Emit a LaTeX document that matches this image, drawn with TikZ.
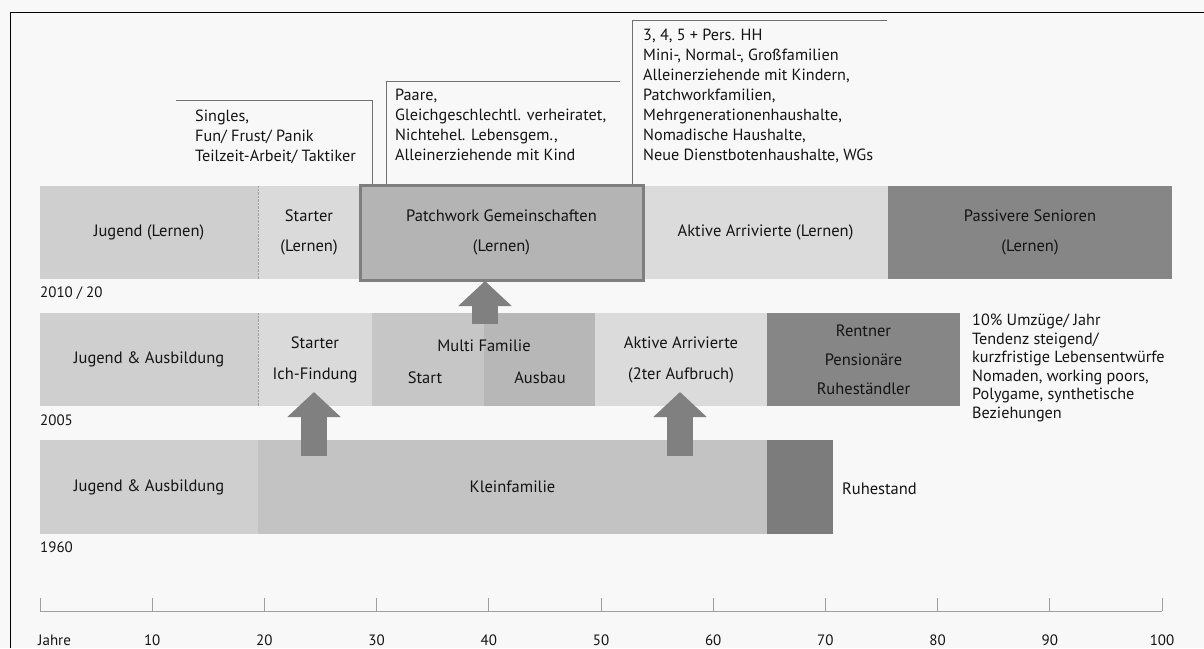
\documentclass[tikz,border=0pt]{standalone}
\usepackage{fontspec}
\setmainfont{PT Sans}
\usetikzlibrary{arrows.meta}
\definecolor{bgc}{HTML}{F8F8F8}
\definecolor{cJ}{HTML}{CFCFCF}
\definecolor{cS}{HTML}{DADADA}
\definecolor{cP}{HTML}{B4B4B4}
\definecolor{cPb}{HTML}{7E7E7E}
\definecolor{cA}{HTML}{DBDBDB}
\definecolor{cD}{HTML}{868686}
\definecolor{cM1}{HTML}{C6C6C6}
\definecolor{cM2}{HTML}{B7B7B7}
\definecolor{cK}{HTML}{C3C3C3}
\definecolor{cR}{HTML}{7C7C7C}
\definecolor{cArr}{HTML}{808080}
\definecolor{cLine}{HTML}{707070}
\definecolor{cTxt}{HTML}{141414}
\definecolor{cAx}{HTML}{A0A0A0}
\tikzset{
  seg/.style={inner sep=0pt, outer sep=0pt, anchor=north west, align=center,
    text=cTxt, font=\fontsize{16.5}{30}\selectfont},
  lbl/.style={inner sep=0pt, text=cTxt, font=\fontsize{16.5}{30}\selectfont},
  yr/.style={inner sep=0pt, anchor=west, text=cTxt, font=\fontsize{15}{18}\selectfont},
  note/.style={inner sep=0pt, anchor=north west, align=left, text=cTxt,
    font=\fontsize{16.2}{20}\selectfont},
  callout/.style={draw=cLine, line width=1pt},
  bigarrow/.style={draw=cArr, line width=26pt,
    -{Triangle[width=52pt,length=25pt]}},
  axisline/.style={draw=cAx, line width=0.8pt},
  axlbl/.style={inner sep=0pt, text=cTxt, font=\fontsize{15}{18}\selectfont}
}
\begin{document}
\begin{tikzpicture}[x=1pt,y=-1pt]
\useasboundingbox (0,0) rectangle (1204,648);
\fill[bgc] (0,0) rectangle (1204,648);
% frame
\draw[black, line width=1pt] (10,648) -- (10,12) -- (1204,12);

% ---- Row 2010/20
\node[seg, fill=cJ, minimum width=218pt, minimum height=93pt] (jA) at (40,186) {Jugend (Lernen)};
\node[seg, fill=cS, minimum width=102pt, minimum height=93pt] (sA) at (258,186) {Starter\\(Lernen)};
\node[seg, fill=cA, minimum width=245pt, minimum height=93pt] (aA) at (643,186) {Aktive Arrivierte (Lernen)};
\node[seg, fill=cD, minimum width=284pt, minimum height=93pt] (vA) at (888,186) {Passivere Senioren\\(Lernen)};
\node[seg, fill=cP, draw=cPb, line width=3pt, minimum width=283pt, minimum height=95pt] (pA) at (360,185) {Patchwork Gemeinschaften\\(Lernen)};
\draw[cAx, densely dotted, line width=0.4pt] (jA.north east) -- (jA.south east);
\node[yr] (yA) at (40,293) {2010 / 20};

% ---- Row 2005
\node[seg, fill=cJ, minimum width=218pt, minimum height=93pt] (jB) at (40,313) {Jugend \& Ausbildung};
\node[seg, fill=cS, minimum width=114pt, minimum height=93pt, font=\fontsize{16.5}{31}\selectfont] (sB) at (258,313) {Starter\\Ich-Findung};
\node[seg, fill=cM1, minimum width=112pt, minimum height=93pt] (m1B) at (372,313) {};
\node[seg, fill=cM2, minimum width=111pt, minimum height=93pt] (m2B) at (484,313) {};
\node[seg, fill=cA, minimum width=172pt, minimum height=93pt, font=\fontsize{16.5}{31}\selectfont] (aB) at (595,313) {Aktive Arrivierte\\(2ter Aufbruch)};
\node[seg, fill=cD, minimum width=193pt, minimum height=93pt, font=\fontsize{16.5}{29}\selectfont] (rB) at (767,313) {Rentner\\Pensionäre\\Ruheständler};
\draw[cAx, densely dotted, line width=0.4pt] (jB.north east) -- (jB.south east);
\node[lbl] (mf) at (484,346) {Multi Familie};
\node[lbl] (mst) at (425,378) {Start};
\node[lbl] (mau) at (540,378) {Ausbau};
\node[yr] (yB) at (40,420) {2005};
\node[note, font=\fontsize{16.2}{18.5}\selectfont] (nB) at (972,314) {10\% Umzüge/ Jahr\\Tendenz steigend/\\kurzfristige Lebensentwürfe\\Nomaden, working poors,\\Polygame, synthetische\\Beziehungen};

% ---- Row 1960
\node[seg, fill=cJ, minimum width=218pt, minimum height=94pt] (jC) at (40,440) {Jugend \& Ausbildung};
\node[seg, fill=cK, minimum width=509pt, minimum height=94pt] (kC) at (258,440) {Kleinfamilie};
\node[seg, fill=cR, minimum width=66pt, minimum height=94pt] (dC) at (767,440) {};
\node[lbl, anchor=west] (ruh) at (842,489) {Ruhestand};
\node[yr] (yC) at (40,547) {1960};

% ---- arrows
\coordinate (a1s) at (314,456);
\coordinate (a1e) at (314,392);
\coordinate (a2s) at (680,456);
\coordinate (a2e) at (680,392);
\coordinate (a3s) at (485,324);
\coordinate (a3e) at (485,281);
\draw[bigarrow] (a1s) -- (a1e);
\draw[bigarrow] (a2s) -- (a2e);
\draw[bigarrow] (a3s) -- (a3e);

% ---- callouts
\coordinate (c1a) at (372,184);
\coordinate (c1b) at (372,100);
\coordinate (c1c) at (176,100);
\draw[callout] (c1a) -- (c1b) -- (c1c);
\node[note] (n1) at (195,110) {Singles,\\Fun/ Frust/ Panik\\Teilzeit-Arbeit/ Taktiker};

\coordinate (c2a) at (386,184);
\coordinate (c2b) at (386,81);
\coordinate (c2c) at (620,81);
\draw[callout] (c2a) -- (c2b) -- (c2c);
\node[note] (n2) at (395,89) {Paare,\\Gleichgeschlechtl. verheiratet,\\Nichtehel. Lebensgem.,\\Alleinerziehende mit Kind};

\coordinate (c3a) at (632,184);
\coordinate (c3b) at (632,20);
\coordinate (c3c) at (887,20);
\draw[callout] (c3a) -- (c3b) -- (c3c);
\node[note] (n3) at (643,29) {3, 4, 5 + Pers. HH\\Mini-, Normal-, Großfamilien\\Alleinerziehende mit Kindern,\\Patchworkfamilien,\\Mehrgenerationenhaushalte,\\Nomadische Haushalte,\\Neue Dienstbotenhaushalte, WGs};

% ---- axis
\coordinate (ax0) at (40,611);
\coordinate (ax1) at (1162,611);
\draw[axisline] (ax0) -- (ax1);
\foreach \i in {0,...,10} {
  \draw[axisline] (40+112.2*\i,611) -- (40+112.2*\i,598);
}
\node[axlbl, anchor=west] (jahre) at (38,640) {Jahre};
\foreach \i in {1,...,10} {
  \node[axlbl] (t\i) at (40+112.2*\i,640) {\the\numexpr\i*10\relax};
}
\end{tikzpicture}
\end{document}
